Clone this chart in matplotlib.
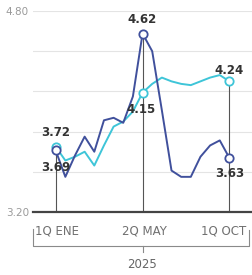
import matplotlib.pyplot as plt
from matplotlib.lines import Line2D

# quincenas: 1Q ENE (0) ... 2Q MAY (9) ... 1Q OCT (18)
quincenas = list(range(19))
tick_pos = [0, 9, 18]
tick_labels = ['1Q ENE', '2Q MAY', '1Q OCT']
year_label = '2025'

serie_oscura = [3.69, 3.48, 3.65, 3.80, 3.68, 3.93, 3.95, 3.91, 4.12, 4.62,
                4.48, 4.01, 3.53, 3.48, 3.48, 3.64, 3.73, 3.77, 3.63]
serie_clara = [3.72, 3.61, 3.64, 3.68, 3.57, 3.73, 3.88, 3.92, 4.00, 4.15,
               4.22, 4.27, 4.24, 4.22, 4.21, 4.24, 4.27, 4.29, 4.24]

y_ticks = [3.20, 3.52, 3.84, 4.16, 4.48, 4.80]
y_ticklabels = ['3.20', '', '', '', '', '4.80']

c_dark = '#40509c'
c_cyan = '#3ec5d8'
c_text = '#333333'

fig = plt.figure(figsize=(2.52, 2.75), dpi=100)
ax = fig.add_axes([0.131, 0.229, 0.869, 0.731])
ax.set_xlim(-2.35, 20.34)
ax.set_ylim(3.2, 4.8)

ax.set_yticks(y_ticks)
ax.set_yticklabels(y_ticklabels, color='#9a9a9a', fontsize=7.5)
ax.set_xticks([])
ax.tick_params(axis='y', length=0, pad=3)
ax.grid(axis='y', color='#e4e4e4', lw=0.8)
ax.set_axisbelow(True)
for s in ['top', 'right', 'left']:
    ax.spines[s].set_visible(False)
ax.spines['bottom'].set_color('#444444')
ax.spines['bottom'].set_linewidth(1.6)

# vertical guides at the highlighted quincenas
for t in tick_pos:
    top = max(serie_oscura[t], serie_clara[t])
    ax.plot([t, t], [3.2, top], color='#555555', lw=0.8, zorder=2)

ax.plot(quincenas, serie_clara, color=c_cyan, lw=1.4, zorder=3)
ax.plot(quincenas, serie_oscura, color=c_dark, lw=1.4, zorder=4)

for t in tick_pos:
    ax.plot(t, serie_clara[t], 'o', ms=6, mfc='white', mec=c_cyan, mew=1.3, zorder=5)
    ax.plot(t, serie_oscura[t], 'o', ms=6, mfc='white', mec=c_dark, mew=1.3, zorder=6)

# value labels
lab = dict(fontsize=8.5, fontweight='bold', color=c_text, ha='center', va='center',
           textcoords='offset points', zorder=7)
ax.annotate(f'{serie_clara[0]:.2f}', (0, serie_clara[0]), xytext=(0, 10), **lab)
ax.annotate(f'{serie_oscura[0]:.2f}', (0, serie_oscura[0]), xytext=(0, -12), **lab)
ax.annotate(f'{serie_oscura[9]:.2f}', (9, serie_oscura[9]), xytext=(0, 10), **lab)
ax.annotate(f'{serie_clara[9]:.2f}', (9, serie_clara[9]), xytext=(-1, -12), **lab)
ax.annotate(f'{serie_clara[18]:.2f}', (18, serie_clara[18]), xytext=(0, 7.5), **lab)
ax.annotate(f'{serie_oscura[18]:.2f}', (18, serie_oscura[18]), xytext=(0, -11), **lab)

# x labels
xt = ax.get_xaxis_transform()
for t, l in zip(tick_pos, tick_labels):
    if t == tick_pos[-1]:
        ax.text(t + 1.75, -0.094, l, transform=xt, ha='right', va='center',
                fontsize=8.5, color='#707070')
    else:
        ax.text(t + 0.15, -0.094, l, transform=xt, ha='center', va='center',
                fontsize=8.5, color='#707070')

# bracket under labels
W, H = 252.0, 275.0
def fl(xs, ys):
    fig.add_artist(Line2D([x / W for x in xs], [1 - y / H for y in ys],
                          color='#8a8a8a', lw=0.8))
fl([32.5, 32.5, 249, 249], [229, 245.5, 245.5, 230])
fl([142.7, 142.7], [245.5, 252])
fig.text(142.5 / W, 1 - 265 / H, year_label, ha='center', va='center',
         fontsize=8.5, color='#666666')

fig.savefig('out.png', dpi=100)
